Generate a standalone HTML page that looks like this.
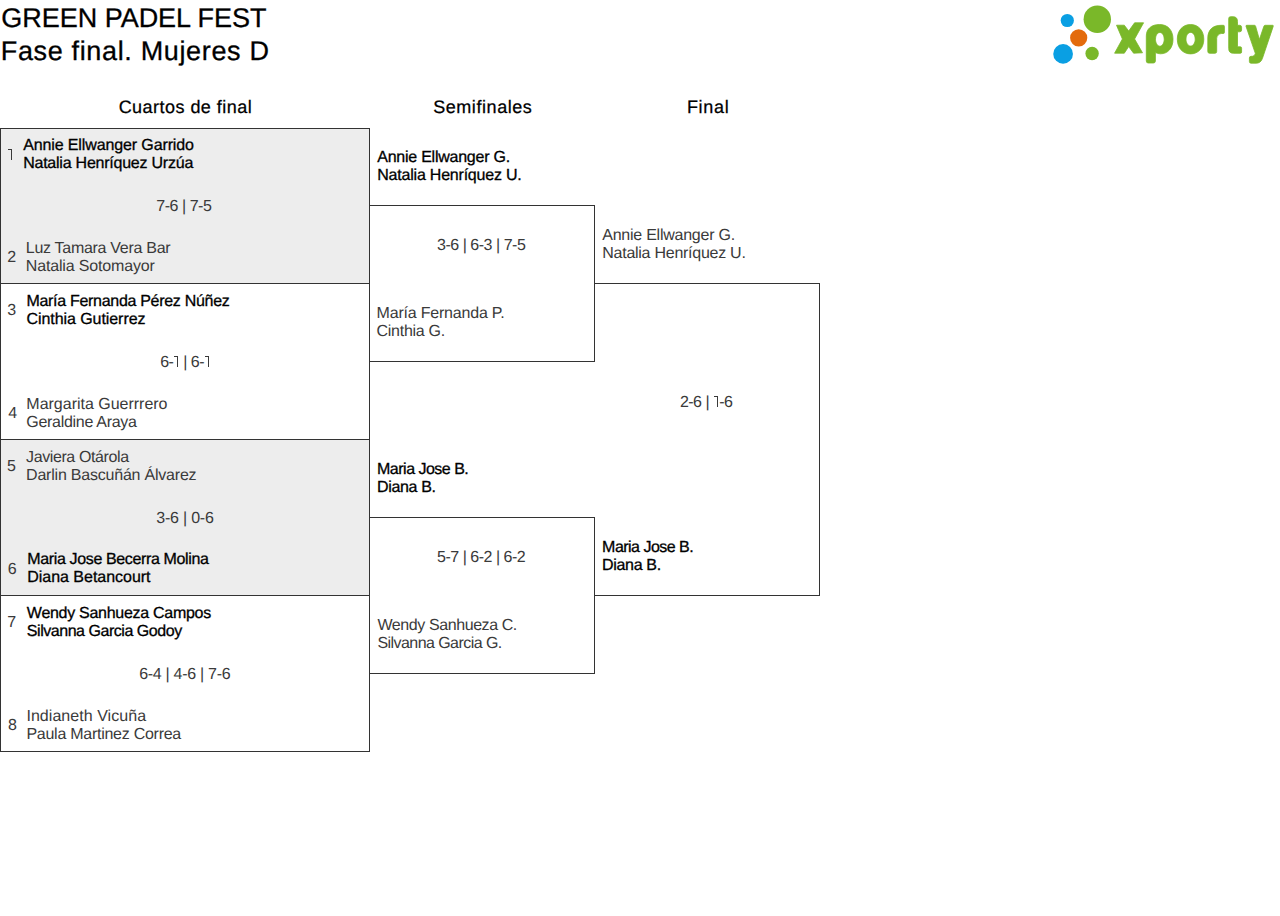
<!DOCTYPE html>
<html><head><meta charset="utf-8"><title>GREEN PADEL FEST</title>
<style>
html,body{margin:0;padding:0;background:#fff;width:1280px;height:916px;overflow:hidden}
body{position:relative;font-family:"Liberation Sans",sans-serif;color:#000;text-rendering:geometricPrecision}
.t{position:absolute;white-space:nowrap}
.rg{color:#3a3a3a}
.d1{display:inline-block;position:relative;width:6px;height:11px}
.d1:before{content:'';position:absolute;right:1px;top:0;width:1.4px;height:11px;background:currentColor}
.d1:after{content:'';position:absolute;right:1px;top:0;width:4px;height:1.4px;background:currentColor}
.bx{position:absolute;box-sizing:border-box;border:0 solid #333}
.g{background:#ededed}
</style></head><body>
<div class="bx g" style="left:0;top:128px;width:370px;height:156px;border-width:1px"></div>
<div class="bx" style="left:0;top:283px;width:370px;height:157px;border-width:1px"></div>
<div class="bx g" style="left:0;top:439px;width:370px;height:157px;border-width:1px"></div>
<div class="bx" style="left:0;top:595px;width:370px;height:157px;border-width:1px"></div>
<div class="bx" style="left:369px;top:205px;width:226px;height:157px;border-width:1px 1px 1px 0"></div>
<div class="bx" style="left:369px;top:517px;width:226px;height:157px;border-width:1px 1px 1px 0"></div>
<div class="bx" style="left:594px;top:283px;width:226px;height:313px;border-width:1px 1px 1px 0"></div>
<div class="t" style="left:1.28px;top:2px;font-size:27px;line-height:33px;letter-spacing:-0.020px;-webkit-text-stroke:0.3px #000">GREEN PADEL FEST</div>
<div class="t" style="left:0.76px;top:35px;font-size:27px;line-height:33px;letter-spacing:0.652px;-webkit-text-stroke:0.3px #000">Fase final. Mujeres D</div>
<div class="t" style="left:118.63px;top:97px;font-size:18px;line-height:20px;letter-spacing:0.467px;-webkit-text-stroke:0.25px #000">Cuartos de final</div>
<div class="t" style="left:433.17px;top:97px;font-size:18px;line-height:20px;letter-spacing:0.566px;-webkit-text-stroke:0.25px #000">Semifinales</div>
<div class="t" style="left:686.89px;top:97px;font-size:18px;line-height:20px;letter-spacing:0.700px;-webkit-text-stroke:0.25px #000">Final</div>
<div class="t" style="left:23.15px;top:137px;font-size:16px;line-height:18px;letter-spacing:-0.117px;-webkit-text-stroke:0.3px #000">Annie Ellwanger Garrido<br><span style="letter-spacing:-0.230px">Natalia Henríquez Urzúa</span></div>
<div class="t rg" style="left:25.81px;top:240px;font-size:16px;line-height:18px;letter-spacing:-0.289px">Luz Tamara Vera Bar<br><span style="letter-spacing:-0.165px">Natalia Sotomayor</span></div>
<div class="t" style="left:26.43px;top:293px;font-size:16px;line-height:18px;letter-spacing:-0.298px;-webkit-text-stroke:0.3px #000">María Fernanda Pérez Núñez<br><span style="letter-spacing:-0.061px">Cinthia Gutierrez</span></div>
<div class="t rg" style="left:26.34px;top:396px;font-size:16px;line-height:18px;letter-spacing:-0.010px">Margarita Guerrrero<br><span style="letter-spacing:-0.299px">Geraldine Araya</span></div>
<div class="t rg" style="left:26.07px;top:449px;font-size:16px;line-height:18px;letter-spacing:-0.395px">Javiera Otárola<br><span style="letter-spacing:-0.213px">Darlin Bascuñán Álvarez</span></div>
<div class="t" style="left:27.27px;top:551px;font-size:16px;line-height:18px;letter-spacing:-0.359px;-webkit-text-stroke:0.3px #000">Maria Jose Becerra Molina<br><span style="letter-spacing:-0.026px">Diana Betancourt</span></div>
<div class="t" style="left:26.86px;top:605px;font-size:16px;line-height:18px;letter-spacing:-0.286px;-webkit-text-stroke:0.3px #000">Wendy Sanhueza Campos<br><span style="letter-spacing:-0.462px">Silvanna Garcia Godoy</span></div>
<div class="t rg" style="left:26.45px;top:708px;font-size:16px;line-height:18px;letter-spacing:0.046px">Indianeth Vicuña<br><span style="letter-spacing:-0.264px">Paula Martinez Correa</span></div>
<div class="t" style="left:377.29px;top:149px;font-size:16px;line-height:18px;letter-spacing:-0.245px;-webkit-text-stroke:0.3px #000">Annie Ellwanger G.<br><span style="letter-spacing:-0.215px">Natalia Henríquez U.</span></div>
<div class="t rg" style="left:376.60px;top:305px;font-size:16px;line-height:18px;letter-spacing:-0.204px">María Fernanda P.<br><span style="letter-spacing:-0.291px">Cinthia G.</span></div>
<div class="t" style="left:377.05px;top:461px;font-size:16px;line-height:18px;letter-spacing:-0.506px;-webkit-text-stroke:0.3px #000">Maria Jose B.<br><span style="letter-spacing:-0.335px">Diana B.</span></div>
<div class="t rg" style="left:377.47px;top:617px;font-size:16px;line-height:18px;letter-spacing:-0.414px">Wendy Sanhueza C.<br><span style="letter-spacing:-0.561px">Silvanna Garcia G.</span></div>
<div class="t rg" style="left:602.28px;top:227px;font-size:16px;line-height:18px;letter-spacing:-0.242px">Annie Ellwanger G.<br><span style="letter-spacing:-0.259px">Natalia Henríquez U.</span></div>
<div class="t" style="left:602.07px;top:539px;font-size:16px;line-height:18px;letter-spacing:-0.513px;-webkit-text-stroke:0.3px #000">Maria Jose B.<br><span style="letter-spacing:-0.330px">Diana B.</span></div>
<div class="t rg" style="left:156.22px;top:198px;font-size:16px;line-height:18px;letter-spacing:-0.454px">7-6 | 7-5</div>
<div class="t rg" style="left:160.22px;top:354px;font-size:16px;line-height:18px;letter-spacing:-0.541px">6-<span class="d1"></span> | 6-<span class="d1"></span></div>
<div class="t rg" style="left:156.21px;top:510px;font-size:16px;line-height:18px;letter-spacing:-0.204px">3-6 | 0-6</div>
<div class="t rg" style="left:139.22px;top:666px;font-size:16px;line-height:18px;letter-spacing:-0.295px">6-4 | 4-6 | 7-6</div>
<div class="t rg" style="left:437.10px;top:237px;font-size:16px;line-height:18px;letter-spacing:-0.484px">3-6 | 6-3 | 7-5</div>
<div class="t rg" style="left:437.06px;top:549px;font-size:16px;line-height:18px;letter-spacing:-0.484px">5-7 | 6-2 | 6-2</div>
<div class="t rg" style="left:679.89px;top:394px;font-size:16px;line-height:18px;letter-spacing:-0.489px">2-6 | <span class="d1"></span>-6</div>
<div class="t rg" style="left:6.95px;top:147px;font-size:16px;line-height:18px;letter-spacing:0.000px"><span class="d1"></span></div>
<div class="t rg" style="left:7.33px;top:249px;font-size:16px;line-height:18px;letter-spacing:0.000px">2</div>
<div class="t rg" style="left:7.25px;top:302px;font-size:16px;line-height:18px;letter-spacing:0.000px">3</div>
<div class="t rg" style="left:8.15px;top:405px;font-size:16px;line-height:18px;letter-spacing:0.000px">4</div>
<div class="t rg" style="left:6.97px;top:458px;font-size:16px;line-height:18px;letter-spacing:0.000px">5</div>
<div class="t rg" style="left:7.85px;top:561px;font-size:16px;line-height:18px;letter-spacing:0.000px">6</div>
<div class="t rg" style="left:7.23px;top:614px;font-size:16px;line-height:18px;letter-spacing:0.000px">7</div>
<div class="t rg" style="left:7.92px;top:717px;font-size:16px;line-height:18px;letter-spacing:0.000px">8</div>
<svg class="t" style="left:1040px;top:0" width="240" height="80" viewBox="1040 0 240 80">
<circle cx="1067.3" cy="20.5" r="6.6" fill="#0a9fe3"/>
<circle cx="1097.3" cy="19.2" r="13.7" fill="#7ab829"/>
<circle cx="1078.7" cy="37.8" r="8.6" fill="#e36b0c"/>
<circle cx="1063.1" cy="53.9" r="9.85" fill="#0a9fe3"/>
<circle cx="1092.1" cy="53.5" r="6.7" fill="#7ab829"/>
<g fill="#7ab829" stroke="#7ab829" stroke-width="0.8" stroke-linejoin="round">
<path d="M1116.5 25.2 L1124.3 25.2 L1128.7 31 L1134.6 22.8 L1143.6 22.8 L1134.6 39 L1142.5 52.8 L1133.6 53.2 L1128.7 46.6 L1124.3 53.2 L1114.6 53.2 L1122.4 39 Z"/>
<path fill-rule="evenodd" d="M1146.3 61 L1146.3 36 C1146.3 29, 1151.2 24.5, 1159.6 24.5 C1168 24.5, 1173 30.5, 1173 39.2 C1173 48, 1168 53.8, 1160.5 53.8 C1158.5 53.8, 1156.8 53.3, 1155.4 52.6 L1155.4 61 Q1155.4 63, 1153.4 63 L1148.3 63 Q1146.3 63, 1146.3 61 Z M1159.85 32.5 C1157.4 32.5, 1155.5 35.5, 1155.5 39.35 C1155.5 43.2, 1157.4 46.2, 1159.85 46.2 C1162.3 46.2, 1164.2 43.2, 1164.2 39.35 C1164.2 35.5, 1162.3 32.5, 1159.85 32.5 Z"/>
<path fill-rule="evenodd" d="M1190.55 24.5 C1182.7 24.5, 1177.3 30.6, 1177.3 39.2 C1177.3 47.8, 1182.7 53.9, 1190.55 53.9 C1198.4 53.9, 1203.8 47.8, 1203.8 39.2 C1203.8 30.6, 1198.4 24.5, 1190.55 24.5 Z M1190.6 32.4 C1188 32.4, 1186 35.4, 1186 39.2 C1186 43, 1188 46, 1190.6 46 C1193.2 46, 1195.2 43, 1195.2 39.2 C1195.2 35.4, 1193.2 32.4, 1190.6 32.4 Z"/>
<path d="M1207.8 51.5 L1207.8 38 C1207.8 29.8, 1213 25.3, 1221 25.3 L1223.3 25.3 Q1224.4 25.3, 1224.4 26.4 L1224.4 32.4 Q1224.4 33.5, 1223.3 33.5 L1221.5 33.5 C1219 33.5, 1216.7 35.8, 1216.7 38.5 L1216.7 51.5 Q1216.7 53.3, 1214.9 53.3 L1209.6 53.3 Q1207.8 53.3, 1207.8 51.5 Z"/>
<path d="M1228.7 18.5 Q1228.7 16.7, 1230.5 16.7 L1233 16.7 Q1237.5 16.7, 1237.5 21.5 L1237.5 25.3 L1239.6 25.3 Q1241.6 25.3, 1241.6 27.3 L1241.6 30 Q1241.6 31.8, 1239.6 31.8 L1237.5 31.8 L1237.5 46.8 L1240.2 46.8 Q1241.6 46.8, 1241.6 48.2 L1241.6 52 Q1241.6 53.3, 1240.2 53.3 L1233.5 53.3 Q1228.7 53.3, 1228.7 48.5 Z"/>
<path d="M1246 26.3 Q1245.6 25.3, 1246.8 25.3 L1254.5 25.3 Q1255.3 25.3, 1255.6 26.2 L1259.4 39.5 L1263.9 26.2 Q1264.2 25.3, 1265.2 25.3 L1272.6 25.3 Q1273.6 25.3, 1273.2 26.4 L1262.4 58.5 Q1260.8 63.2, 1256 63.2 L1251 63.2 Q1249.4 63.2, 1249.4 61.6 L1249.4 58 Q1249.4 56.3, 1251 56.3 L1252.3 56.3 Q1254.4 56.3, 1255 54.2 L1255.3 53.3 Z"/>
</g>
</svg>

</body></html>
